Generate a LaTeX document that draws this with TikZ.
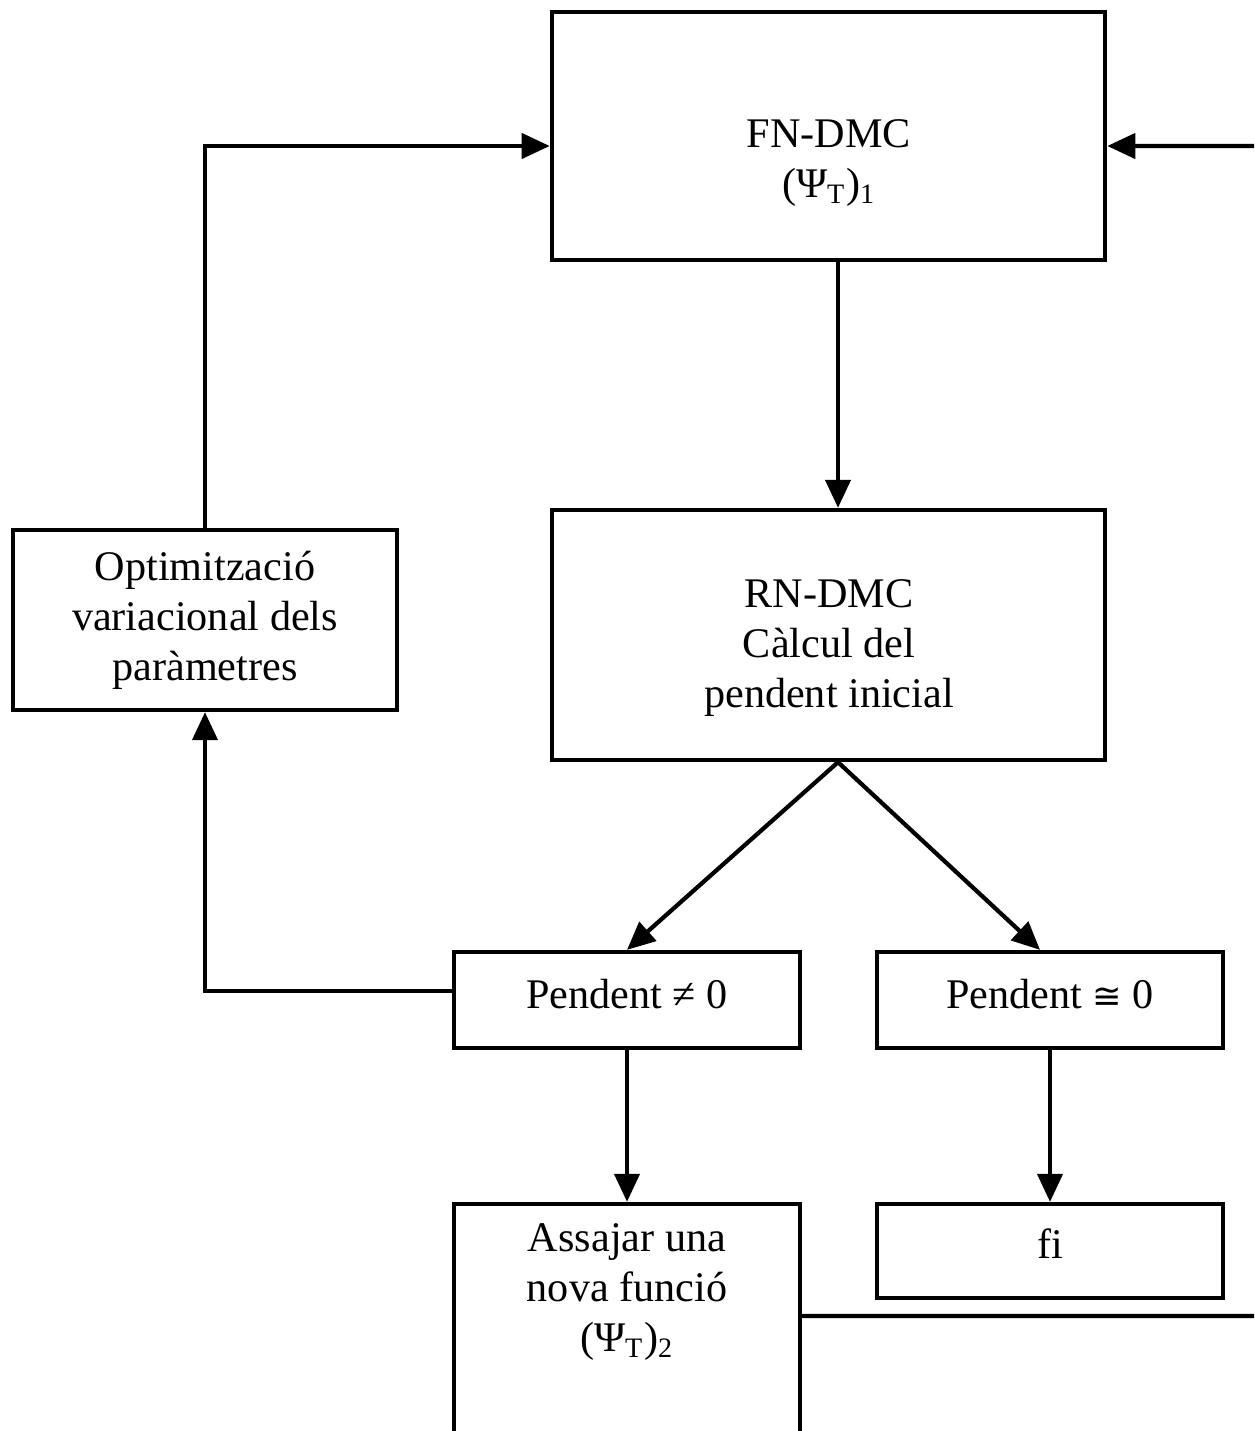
\documentclass[tikz,border=0pt]{standalone}
\usepackage{fontspec}
\setmainfont{Liberation Serif}
\newfontfamily\symbfont{DejaVu Sans}
\usepackage{tikz}
\usetikzlibrary{arrows.meta,positioning}

\tikzset{
  box/.style={draw, line width=1.2pt, align=center, inner sep=0pt},
  txt/.style={align=center, inner sep=0pt},
  arr/.style={line width=1.2pt, -{Triangle[length=0.28cm,width=0.25cm]}},
}

\begin{document}
\begin{tikzpicture}[x=0.01cm, y=-0.01cm, font=\fontsize{12}{14.2}\selectfont]
\useasboundingbox (0,0) rectangle (1254,1431);
\clip (0,0) rectangle (1254,1431);

\node (fn) at (828.5,136) [box, minimum width=5.53cm, minimum height=2.48cm]{};
\node (fntext) at (829,163) [txt]{FN-DMC\\(Ψ\textsubscript{T})\textsubscript{1}};

\node (rn) at (828.5,635) [box, minimum width=5.53cm, minimum height=2.5cm]{};
\node (rntext) at (829,648) [txt]{RN-DMC\\Càlcul del\\pendent inicial};

\node (opt) at (205,620) [box, minimum width=3.84cm, minimum height=1.8cm]{Optimització\\variacional dels\\paràmetres};

\node (pne) at (627,1000) [box, minimum width=3.46cm, minimum height=0.96cm]{};
\node (pnetext) at (627,994) [txt]{Pendent ≠ 0};
\node (pnz) at (1050,1000) [box, minimum width=3.46cm, minimum height=0.96cm]{};
\node (pnztext) at (1050,994) [txt]{Pendent {\symbfont\fontsize{10}{12}\selectfont ≅} 0};

\node (assaig) at (627,1362) [box, minimum width=3.46cm, minimum height=3.16cm]{};
\node (assaigtext) at (627,1292) [txt]{Assajar una\\nova funció\\(Ψ\textsubscript{T})\textsubscript{2}};
\node (fi) at (1050,1251) [box, minimum width=3.46cm, minimum height=0.94cm]{};
\node (fitext) at (1050,1244) [txt]{fi};

\coordinate (rbot) at (1290,1316);
\coordinate (rtop) at (1290,146);

% connectors
\draw[arr] ([xshift=0.095cm]fn.south) -- ([xshift=0.095cm]rn.south |- rn.north);
\draw[arr] ([xshift=0.095cm]rn.south) -- (pne.north);
\draw[arr] ([xshift=0.095cm]rn.south) -- ([xshift=-0.1cm]pnz.north);
\draw[arr] ([yshift=0.09cm]pne.west) -| (opt.south);
\draw[arr] (opt.north) |- ([yshift=-0.1cm]fn.west);
\draw[arr] (pne.south) -- (assaig.north);
\draw[arr] (pnz.south) -- (fi.north);
\draw[arr] ([yshift=0.46cm]assaig.east) -- (rbot) -- (rtop) -- ([yshift=-0.1cm]fn.east);

\end{tikzpicture}
\end{document}
